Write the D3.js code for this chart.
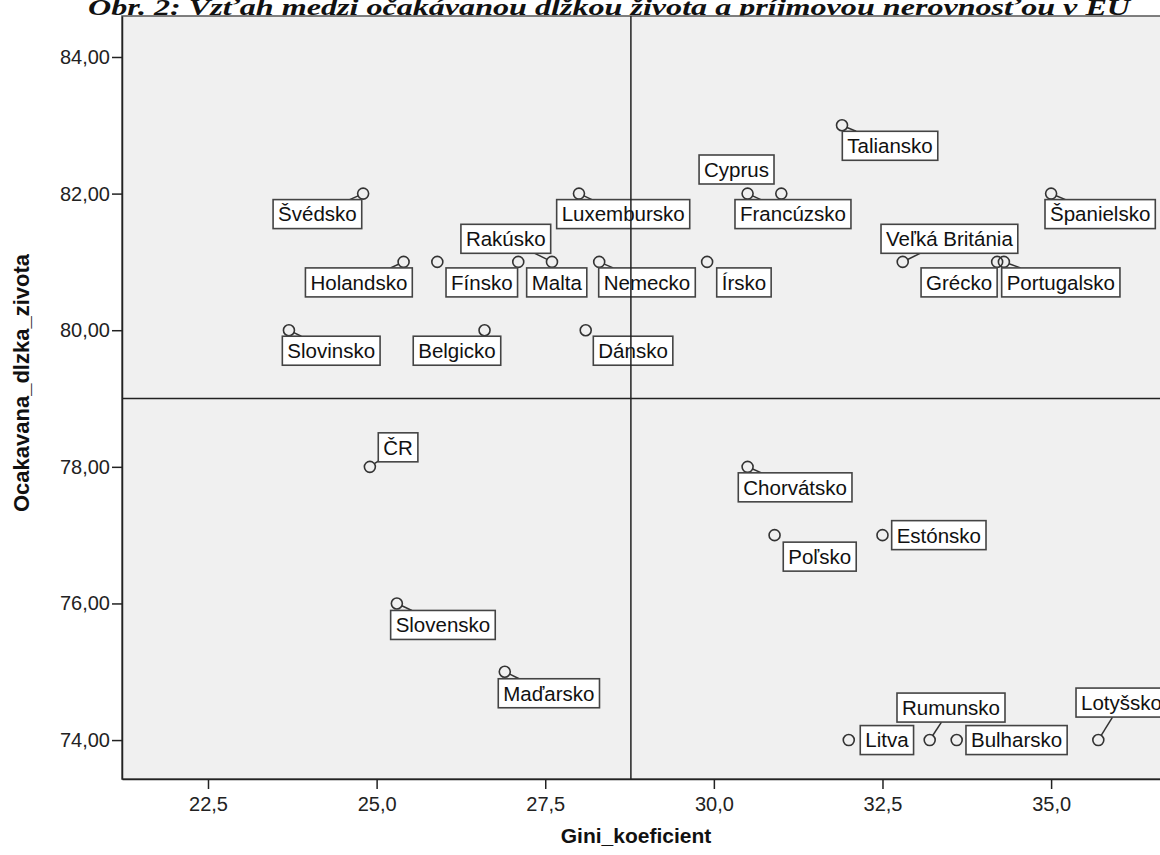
<!DOCTYPE html>
<html>
<head>
<meta charset="utf-8">
<script src="https://cdn.jsdelivr.net/npm/d3@7"></script>
<style>
    body { margin: 0; background: #ffffff; }
    svg { display: block; }
</style>
</head>
<body>
<div id="chartContainer"></div>
<script>
// Countries (EU 28)
const countries = ["Švédsko", "Luxembursko", "Rakúsko", "Holandsko", "Fínsko", "Malta", "Nemecko", "Írsko",
    "Slovinsko", "Belgicko", "Dánsko", "ČR", "Slovensko", "Maďarsko", "Chorvátsko", "Poľsko", "Estónsko",
    "Litva", "Rumunsko", "Bulharsko", "Lotyšsko", "Cyprus", "Francúzsko", "Taliansko", "Španielsko",
    "Veľká Británia", "Grécko", "Portugalsko"];

// Gini koeficient per country
const gini = [24.8, 28.0, 27.6, 25.4, 25.9, 27.1, 28.3, 29.9,
    23.7, 26.6, 28.1, 24.9, 25.3, 26.9, 30.5, 30.9, 32.5,
    32.0, 33.2, 33.6, 35.7, 31.0, 30.5, 31.9, 35.0,
    32.8, 34.2, 34.3];

// Ocakavana dlzka zivota per country
const lifeExp = [82, 82, 81, 81, 81, 81, 81, 81,
    80, 80, 80, 78, 76, 75, 78, 77, 77,
    74, 74, 74, 74, 82, 82, 83, 82,
    81, 81, 81];

// Axis ticks
const xTicks = [22.5, 25.0, 27.5, 30.0, 32.5, 35.0];
const yTicks = [74, 76, 78, 80, 82, 84];

// Reference lines
const refGini = 28.77;
const refLife = 79.0;

// Label placement: [dx, dy, mode, leader]
// mode[0]: b = box below (dy = top), a = above (dy = bottom), m = centered
// mode[1]: l = dx is box left edge, r = dx is box right edge
const labelPlacement = {
    "Švédsko": [-1.4, 6, "br", true],
    "Luxembursko": [-22.3, 6, "bl", true],
    "Rakúsko": [-1.3, -8.6, "ar", true],
    "Holandsko": [8.7, 6, "br", true],
    "Fínsko": [8.7, 6, "bl", false],
    "Malta": [8.4, 6, "bl", false],
    "Nemecko": [-0.5, 6, "bl", true],
    "Írsko": [9.6, 6, "bl", false],
    "Slovinsko": [-6.6, 6, "bl", true],
    "Belgicko": [16.2, 6, "br", false],
    "Dánsko": [7.6, 6, "bl", false],
    "ČR": [8.4, -5, "al", true],
    "Slovensko": [-6.2, 7, "bl", true],
    "Maďarsko": [-6.5, 7, "bl", true],
    "Chorvátsko": [-9.3, 6, "bl", true],
    "Poľsko": [8.7, 7, "bl", false],
    "Estónsko": [9.2, 0, "ml", false],
    "Litva": [11.5, 0, "ml", false],
    "Rumunsko": [-32.7, -18, "al", true],
    "Bulharsko": [9.3, 0, "ml", false],
    "Lotyšsko": [-22.3, -23, "al", true],
    "Cyprus": [-7.3, -9.6, "ar", false],
    "Francúzsko": [-12.6, 6, "bl", true],
    "Taliansko": [0.3, 6, "bl", true],
    "Španielsko": [-6.1, 6, "bl", true],
    "Veľká Británia": [-21.7, -8.6, "al", true],
    "Grécko": [0, 6, "br", false],
    "Portugalsko": [-2.2, 6, "bl", true]
};

function createScatterChart(containerId) {
    const svgWidth = 1160;
    const svgHeight = 855;

    // plot area (right edge runs past the window like in the source image)
    const plotLeft = 122, plotTop = 16, plotBottom = 779, plotRight = 1186;

    const svg = d3.select(`#${containerId}`)
        .append("svg")
        .attr("width", svgWidth)
        .attr("height", svgHeight);

    const x = d3.scaleLinear().domain([21.225, 37.0]).range([plotLeft, plotRight]);
    const y = d3.scaleLinear().domain([73.43, 84.6]).range([plotBottom, plotTop]);

    const data = countries.map((c, i) => ({ name: c, gini: gini[i], life: lifeExp[i] }));

    // Title (cut at the top in the source)
    svg.append("text")
        .attr("x", 88)
        .attr("y", 15)
        .attr("textLength", 1042)
        .attr("lengthAdjust", "spacingAndGlyphs")
        .style("font-family", "'Liberation Serif', 'Times New Roman', serif")
        .style("font-weight", "bold")
        .style("font-style", "italic")
        .style("font-size", "24px")
        .style("fill", "#111")
        .text("Obr. 2: Vzťah medzi očakávanou dĺžkou života a príjmovou nerovnosťou v EÚ");

    // Plot background
    svg.append("rect")
        .attr("x", plotLeft)
        .attr("y", plotTop)
        .attr("width", plotRight - plotLeft)
        .attr("height", plotBottom - plotTop)
        .attr("fill", "#f0f0f0")
        .attr("stroke", "#555")
        .attr("stroke-width", 1.5);

    const fmt = v => v.toFixed(1).replace(".", ",");
    const fmtY = v => v.toFixed(2).replace(".", ",");

    // X axis
    const xAxis = svg.append("g")
        .attr("transform", `translate(0,${plotBottom})`)
        .call(d3.axisBottom(x).tickValues(xTicks).tickFormat(fmt).tickSize(10).tickSizeOuter(0));
    xAxis.select(".domain").attr("stroke", "#222").attr("stroke-width", 1.5);
    xAxis.selectAll(".tick line").attr("stroke", "#222").attr("stroke-width", 1.5);
    xAxis.selectAll(".tick text")
        .attr("y", 18)
        .style("font-family", "'Liberation Sans', Arial, sans-serif")
        .style("font-size", "20px")
        .style("fill", "#222");

    // Y axis
    const yAxis = svg.append("g")
        .attr("transform", `translate(${plotLeft},0)`)
        .call(d3.axisLeft(y).tickValues(yTicks).tickFormat(fmtY).tickSize(10).tickSizeOuter(0));
    yAxis.select(".domain").attr("stroke", "#222").attr("stroke-width", 1.5);
    yAxis.selectAll(".tick line").attr("stroke", "#222").attr("stroke-width", 1.5);
    yAxis.selectAll(".tick text")
        .attr("x", -12)
        .style("font-family", "'Liberation Sans', Arial, sans-serif")
        .style("font-size", "20px")
        .style("fill", "#222");

    // Axis titles
    svg.append("text")
        .attr("x", 636)
        .attr("y", 843)
        .attr("text-anchor", "middle")
        .style("font-family", "'Liberation Sans', Arial, sans-serif")
        .style("font-weight", "bold")
        .style("font-size", "21px")
        .style("fill", "#111")
        .text("Gini_koeficient");

    svg.append("text")
        .attr("transform", "translate(29,383) rotate(-90)")
        .attr("text-anchor", "middle")
        .style("font-family", "'Liberation Sans', Arial, sans-serif")
        .style("font-weight", "bold")
        .style("font-size", "22px")
        .style("fill", "#111")
        .text("Ocakavana_dlzka_zivota");

    const r = 5.5;
    const boxH = 29;
    const pad = 5;

    // Points
    svg.selectAll("circle.pt")
        .data(data)
        .enter()
        .append("circle")
        .attr("class", "pt")
        .attr("cx", d => x(d.gini))
        .attr("cy", d => y(d.life))
        .attr("r", r)
        .attr("fill", "none")
        .attr("stroke", "#333")
        .attr("stroke-width", 1.6);

    // Labels with boxes
    const labels = svg.selectAll(".lbl")
        .data(data)
        .enter()
        .append("g")
        .attr("class", "lbl");

    labels.each(function (d) {
        const g = d3.select(this);
        const px = x(d.gini), py = y(d.life);
        const [dx, dy, mode, leader] = labelPlacement[d.name];

        const txt = g.append("text")
            .style("font-family", "'Liberation Sans', Arial, sans-serif")
            .style("font-size", "20.5px")
            .style("fill", "#111")
            .text(d.name);
        const w = txt.node().getComputedTextLength() + pad * 2;

        const left = mode[1] === "l" ? px + dx : px + dx - w;
        let top;
        if (mode[0] === "b") top = py + dy;
        else if (mode[0] === "a") top = py + dy - boxH;
        else top = py - boxH / 2;

        // leader line from circle towards box centre
        if (leader) {
            const cx = left + w / 2, cy = top + boxH / 2;
            const vx = cx - px, vy = cy - py;
            const len = Math.sqrt(vx * vx + vy * vy);
            const tx1 = (left - px) / vx, tx2 = (left + w - px) / vx;
            const ty1 = (top - py) / vy, ty2 = (top + boxH - py) / vy;
            const tEnter = Math.max(Math.min(tx1, tx2), Math.min(ty1, ty2));
            const tStart = r / len;
            if (tEnter > tStart) {
                g.insert("line", "text")
                    .attr("x1", px + vx * tStart)
                    .attr("y1", py + vy * tStart)
                    .attr("x2", px + vx * tEnter)
                    .attr("y2", py + vy * tEnter)
                    .attr("stroke", "#333")
                    .attr("stroke-width", 1.5);
            }
        }

        g.insert("rect", "text")
            .attr("x", left)
            .attr("y", top)
            .attr("width", w)
            .attr("height", boxH)
            .attr("fill", "#ffffff")
            .attr("stroke", "#444")
            .attr("stroke-width", 1.6);

        txt.attr("x", left + pad)
            .attr("y", top + boxH / 2)
            .attr("dy", "0.36em");
    });

    // Reference lines drawn over the labels
    svg.append("line")
        .attr("x1", x(refGini)).attr("x2", x(refGini))
        .attr("y1", plotTop).attr("y2", plotBottom)
        .attr("stroke", "#222")
        .attr("stroke-width", 1.5);

    svg.append("line")
        .attr("x1", plotLeft).attr("x2", plotRight)
        .attr("y1", y(refLife)).attr("y2", y(refLife))
        .attr("stroke", "#222")
        .attr("stroke-width", 1.5);
}

createScatterChart("chartContainer");
</script>
</body>
</html>
